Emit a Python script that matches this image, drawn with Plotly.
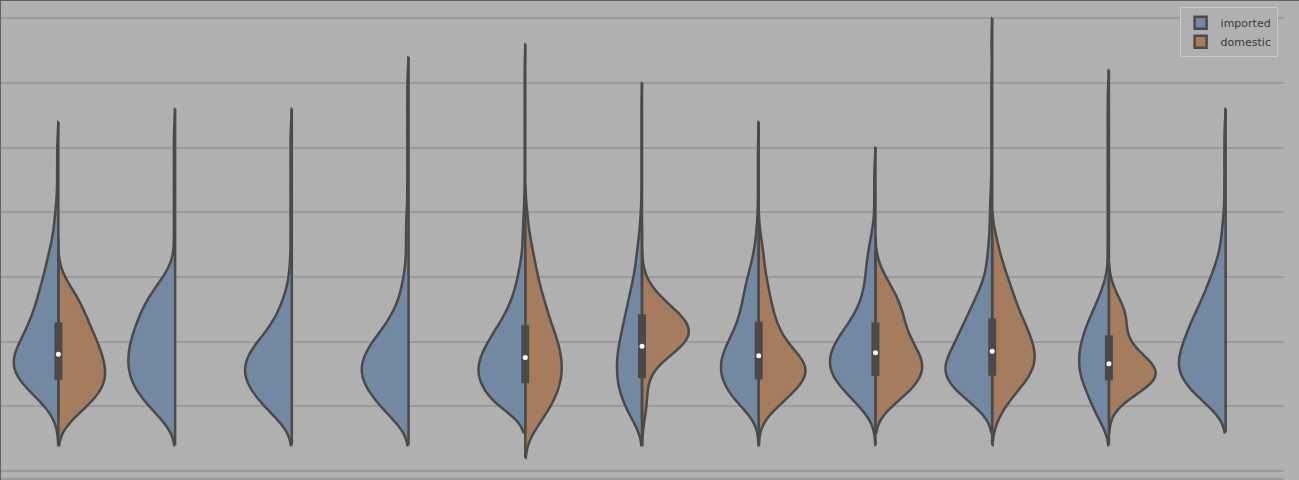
import numpy as np
import plotly.graph_objects as go

# ---------------- data (frequency table) ----------------
categories = [0, 1, 2, 3, 4, 5, 6, 7, 8, 9, 10]
series_names = ["imported", "domestic"]

value_bins = [2, 4, 6, 8, 10, 12, 14, 16, 18, 20, 22, 24, 26, 28, 30, 32, 34,
              36, 38, 40, 42, 44, 46, 48, 50, 52, 54, 56, 58, 60, 62, 64, 66, 68, 70]

# counts per value bin, one list per category
imported_counts = [
    [0, 0, 0, 1, 5, 11, 17, 20, 19, 16, 13, 11, 9, 8, 6, 5, 4, 2, 2, 1, 1, 0, 1, 0, 1, 0, 0, 0, 0, 0, 0, 0, 0, 0, 0],
    [0, 0, 0, 6, 11, 16, 19, 20, 20, 19, 17, 15, 13, 9, 5, 1, 0, 1, 0, 1, 0, 1, 0, 1, 0, 1, 0, 0, 0, 0, 0, 0, 0, 0, 0],
    [0, 0, 0, 6, 11, 16, 19, 20, 18, 14, 9, 6, 4, 2, 1, 1, 0, 1, 0, 1, 0, 1, 0, 1, 0, 1, 0, 0, 0, 0, 0, 0, 0, 0, 0],
    [0, 0, 0, 7, 11, 16, 19, 20, 18, 15, 10, 7, 4, 3, 2, 1, 1, 1, 1, 1, 0, 1, 0, 1, 0, 1, 0, 1, 0, 1, 0, 0, 0, 0, 0],
    [0, 0, 0, 0, 26, 32, 38, 40, 36, 30, 24, 16, 12, 8, 6, 4, 2, 2, 2, 1, 1, 0, 1, 0, 1, 0, 1, 0, 1, 0, 1, 0, 0, 0, 0],
    [0, 0, 0, 24, 36, 48, 54, 54, 54, 48, 42, 36, 30, 24, 18, 12, 12, 6, 4, 3, 0, 2, 0, 2, 0, 2, 0, 2, 0, 0, 0, 0, 0, 0, 0],
    [0, 0, 0, 3, 24, 39, 48, 51, 48, 39, 30, 24, 21, 18, 15, 9, 6, 3, 3, 0, 2, 0, 2, 0, 2, 0, 0, 0, 0, 0, 0, 0, 0, 0, 0],
    [0, 0, 0, 1, 7, 12, 18, 20, 20, 17, 13, 9, 6, 5, 4, 4, 3, 2, 1, 0, 1, 0, 1, 0, 0, 0, 0, 0, 0, 0, 0, 0, 0, 0, 0],
    [0, 0, 0, 0, 21, 42, 60, 63, 54, 45, 39, 30, 24, 15, 9, 6, 6, 3, 3, 3, 2, 2, 0, 2, 0, 2, 0, 2, 0, 2, 0, 0, 2, 0, 0],
    [0, 0, 0, 5, 7, 9, 12, 13, 13, 12, 10, 8, 5, 3, 1, 0, 1, 0, 1, 0, 1, 0, 1, 0, 1, 0, 1, 0, 1, 0, 0, 0, 0, 0, 0],
    [0, 0, 0, 0, 7, 13, 18, 20, 19, 17, 15, 13, 10, 8, 6, 4, 2, 2, 1, 1, 0, 1, 0, 1, 0, 1, 0, 0, 0, 0, 0, 0, 0, 0, 0],
]

domestic_counts = [
    [0, 0, 0, 8, 18, 26, 30, 29, 27, 24, 20, 17, 14, 9, 3, 0, 0, 0, 0, 0, 0, 0, 0, 0, 0, 0, 0, 0, 0, 0, 0, 0, 0, 0, 0],
    None,
    None,
    None,
    [0, 0, 3, 7, 10, 13, 14, 15, 14, 13, 11, 9, 8, 6, 5, 4, 3, 2, 1, 1, 0, 0, 0, 0, 0, 0, 0, 0, 0, 0, 0, 0, 0, 0, 0],
    [0, 0, 0, 1, 2, 2, 2, 4, 11, 19, 20, 16, 9, 4, 1, 0, 0, 0, 0, 0, 0, 0, 0, 0, 0, 0, 0, 0, 0, 0, 0, 0, 0, 0, 0],
    [0, 0, 0, 1, 8, 13, 19, 21, 16, 10, 8, 6, 5, 4, 3, 2, 2, 1, 0, 0, 0, 0, 0, 0, 0, 0, 0, 0, 0, 0, 0, 0, 0, 0, 0],
    [0, 0, 0, 0, 6, 13, 18, 20, 18, 14, 12, 11, 10, 7, 4, 1, 0, 0, 0, 0, 0, 0, 0, 0, 0, 0, 0, 0, 0, 0, 0, 0, 0, 0, 0],
    [0, 0, 0, 2, 4, 8, 12, 15, 15, 14, 12, 10, 8, 7, 5, 4, 2, 2, 0, 0, 0, 0, 0, 0, 0, 0, 0, 0, 0, 0, 0, 0, 0, 0, 0],
    [0, 0, 0, 0, 6, 33, 63, 63, 36, 21, 18, 24, 15, 6, 0, 0, 0, 0, 0, 0, 0, 0, 0, 0, 0, 0, 0, 0, 0, 0, 0, 0, 0, 0, 0],
    None,
]

# ---------------- style ----------------
BG = "#b0b0b0"
GRID = "#9a9a9a"
OUTLINE = "#4a4a4a"
BLUE = "#7389a3"
ORANGE = "#a67c5f"
BW = 2.0
BIN_HALF = 1.0
LW = 2.5


def grouped_quantile(counts, p):
    """Quantile of a frequency table, values spread evenly inside each bin."""
    c = np.asarray(counts, dtype=float)
    edges = np.concatenate([[value_bins[0] - BIN_HALF], np.asarray(value_bins) + BIN_HALF])
    cum = np.concatenate([[0.0], np.cumsum(c)])
    return float(np.interp(p * cum[-1], cum, edges))


fig = go.Figure()

for i, cat in enumerate(categories):
    imp = np.repeat(value_bins, imported_counts[i]).astype(float)
    dom = (np.repeat(value_bins, domestic_counts[i]).astype(float)
           if domestic_counts[i] is not None else np.array([]))
    halves = [(imp, "negative", series_names[0], BLUE),
              (dom, "positive", series_names[1], ORANGE)]
    for vals, side, name, color in halves:
        if vals.size == 0:
            continue
        fig.add_trace(go.Violin(
            x=[cat] * vals.size, y=vals, side=side, name=name,
            legendgroup=name, showlegend=(i == 0),
            scalegroup="cat%d" % i, scalemode="width",
            bandwidth=BW, spanmode="soft", points=False,
            fillcolor=color, line=dict(color=OUTLINE, width=LW),
            box_visible=False, meanline_visible=False, opacity=1,
            hoverinfo="skip",
        ))

    allv = np.concatenate([imp, dom])
    lo, hi = allv.min() - 2 * BW, allv.max() + 2 * BW
    # centre line of the split violin
    fig.add_trace(go.Scatter(x=[cat, cat], y=[lo, hi], mode="lines",
                             line=dict(color=OUTLINE, width=LW),
                             showlegend=False, hoverinfo="skip"))
    if dom.size > 0:
        tot = np.asarray(imported_counts[i]) + np.asarray(domestic_counts[i])
        q25 = grouped_quantile(tot, 0.25)
        q50 = grouped_quantile(tot, 0.50)
        q75 = grouped_quantile(tot, 0.75)
        iqr = q75 - q25
        h1 = allv[allv >= q25 - 1.5 * iqr].min()
        h2 = allv[allv <= q75 + 1.5 * iqr].max()
        fig.add_trace(go.Scatter(x=[cat, cat], y=[h1, h2], mode="lines",
                                 line=dict(color=OUTLINE, width=LW),
                                 showlegend=False, hoverinfo="skip"))
        fig.add_trace(go.Scatter(x=[cat, cat], y=[q25, q75], mode="lines",
                                 line=dict(color=OUTLINE, width=8),
                                 showlegend=False, hoverinfo="skip"))
        fig.add_trace(go.Scatter(x=[cat], y=[q50], mode="markers",
                                 marker=dict(color="white", size=5),
                                 showlegend=False, hoverinfo="skip"))

fig.update_layout(
    width=1299, height=480,
    margin=dict(l=0, r=15, t=0, b=2),
    paper_bgcolor=BG, plot_bgcolor=BG,
    violinmode="overlay", violingap=0.2, violingroupgap=0,
    showlegend=True,
    legend=dict(x=0.995, y=0.985, xanchor="right", yanchor="top",
                bgcolor=BG, bordercolor="#c8c8c8", borderwidth=1,
                font=dict(family="DejaVu Sans", size=11, color="#3a3a3a"),
                tracegroupgap=0),
    xaxis=dict(range=[-0.5, 10.5], showgrid=False, zeroline=False,
               showticklabels=False, ticks="", showline=True,
               linecolor=GRID, linewidth=1.5),
    yaxis=dict(range=[-1.08, 72.8], tick0=0, dtick=10, showgrid=True,
               gridcolor=GRID, gridwidth=1.5, zeroline=False,
               showticklabels=False, ticks=""),
    shapes=[
        dict(type="line", xref="paper", yref="paper", x0=0, x1=1.02, y0=1, y1=1,
             line=dict(color="#606060", width=2)),
        dict(type="line", xref="paper", yref="paper", x0=0, x1=0, y0=-0.01, y1=1,
             line=dict(color="#606060", width=2)),
    ],
)

fig.write_html("out.html")
